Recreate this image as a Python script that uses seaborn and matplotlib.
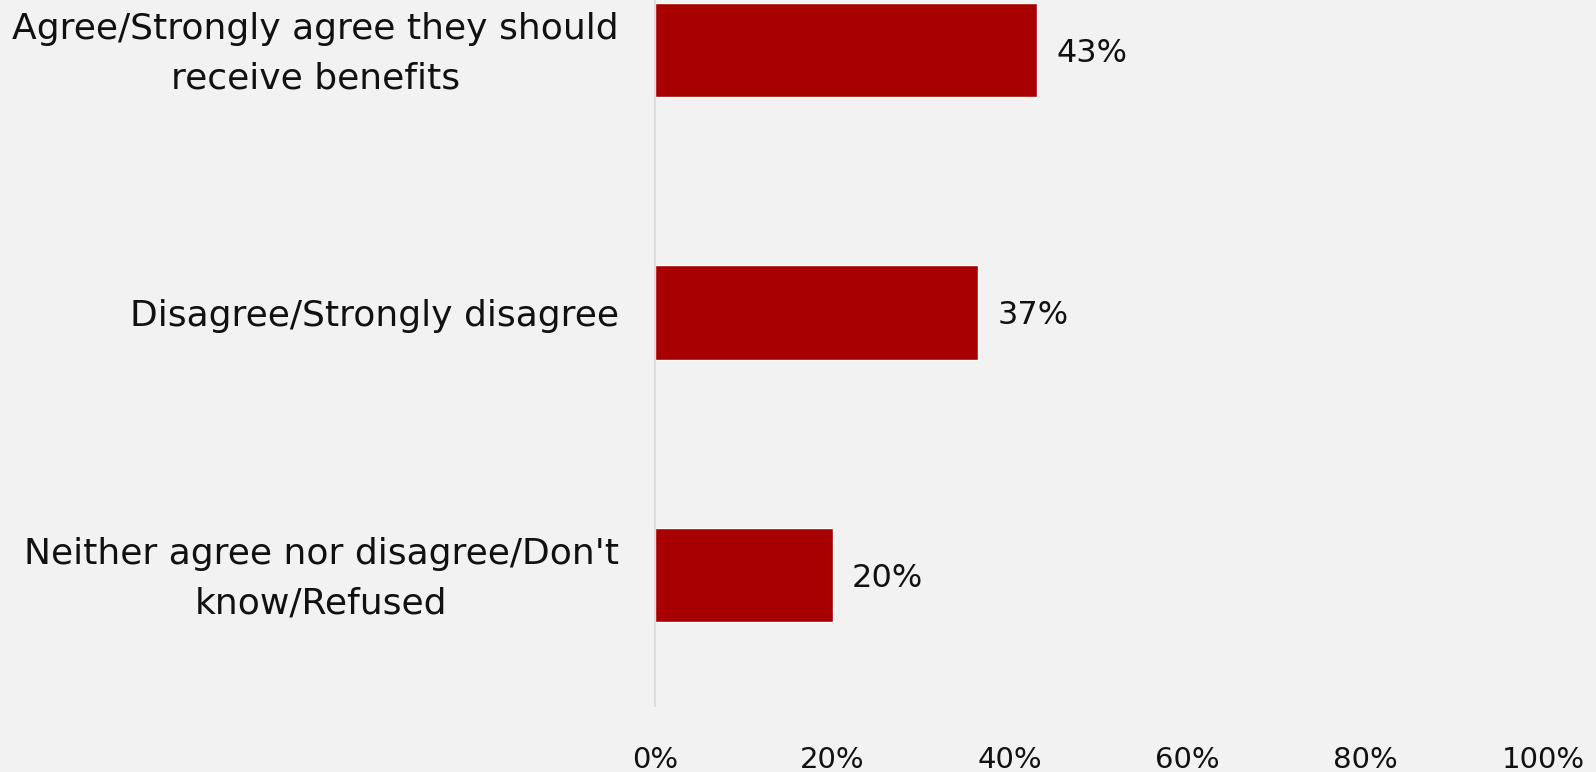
import matplotlib
matplotlib.use("Agg")
import matplotlib.pyplot as plt
import matplotlib.transforms as mtransforms
import seaborn as sns
import pandas as pd

categories = [
    "Agree/Strongly agree they should\nreceive benefits",
    "Disagree/Strongly disagree",
    "Neither agree nor disagree/Don't\nknow/Refused",
]
values = [43, 36.4, 20]
value_labels = ["43%", "37%", "20%"]
xticks = [0, 20, 40, 60, 80, 100]
xticklabels = ["0%", "20%", "40%", "60%", "80%", "100%"]

sns.set_theme(style="white")
plt.rcParams["font.family"] = ["DejaVu Sans"]

BG = "#f2f2f2"
BAR = "#a80000"
TXT = "#111111"

fig = plt.figure(figsize=(15.96, 7.72), dpi=100, facecolor=BG)
ax = fig.add_axes([655 / 1596, 66 / 772, 888 / 1596, 787.5 / 772])
ax.set_facecolor("none")

df = pd.DataFrame({"cat": categories, "val": values})
sns.barplot(data=df, x="val", y="cat", orient="h", color=BAR, width=0.36,
            saturation=1, ax=ax)

ax.set_xlim(0, 100)
ax.set_ylim(2.5, -0.5)
ax.set_xticks(xticks)
ax.set_xticklabels(xticklabels, fontsize=21, color=TXT)
ax.tick_params(axis="x", length=0, pad=29)
ax.tick_params(axis="y", length=0, pad=26)
shift = mtransforms.ScaledTranslation(0, -3 / 72, fig.dpi_scale_trans)
for lab in ax.get_yticklabels():
    lab.set_fontsize(26)
    lab.set_color(TXT)
    lab.set_multialignment("center")
    lab.set_linespacing(1.55)
    lab.set_verticalalignment("center")
    lab.set_transform(lab.get_transform() + shift)
ax.set_xlabel("")
ax.set_ylabel("")

for s in ["top", "right", "bottom"]:
    ax.spines[s].set_visible(False)
ax.spines["left"].set_color("#d9d9d9")
ax.spines["left"].set_linewidth(1.2)

texts = ax.bar_label(ax.containers[0], labels=value_labels,
                     padding=14, fontsize=23, color=TXT)
for t in texts:
    t.set_verticalalignment("center_baseline")

fig.savefig("out.png", dpi=100, facecolor=BG)
